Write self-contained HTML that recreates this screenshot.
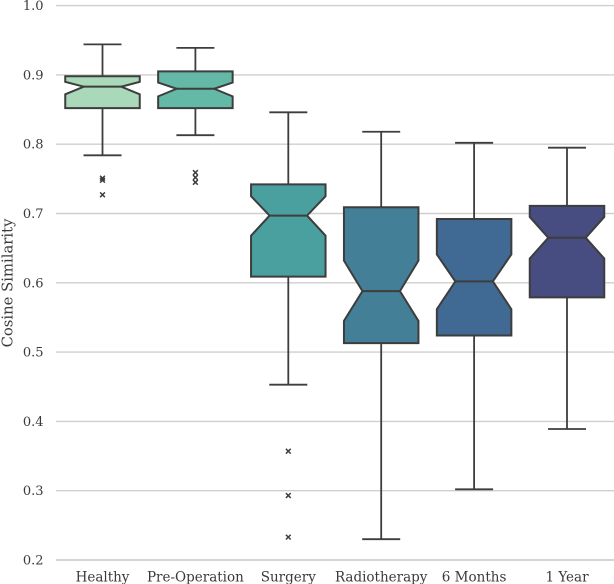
<!DOCTYPE html>
<html lang="en">
<head>
<meta charset="utf-8">
<title>Cosine Similarity Box Plot</title>
<style>
html,body{margin:0;padding:0;background:#fff;}
svg{display:block;}
text{font-family:"DejaVu Serif","Liberation Serif",serif;fill:#3a3a3a;font-size:13px;}
text.x-label{font-size:13.5px;}
text.y-title{font-size:14.8px;}
</style>
</head>
<body>
<svg id="chart" width="614" height="584" viewBox="0 0 614 584" xmlns="http://www.w3.org/2000/svg"></svg>
<script>
const categories = ['Healthy', 'Pre-Operation', 'Surgery', 'Radiotherapy', '6 Months', '1 Year'];
const yTicks = [0.2, 0.3, 0.4, 0.5, 0.6, 0.7, 0.8, 0.9, 1.0];
const whiskerLow = [0.784, 0.813, 0.453, 0.230, 0.302, 0.389];
const q1 = [0.852, 0.852, 0.609, 0.513, 0.524, 0.579];
const notchLow = [0.872, 0.869, 0.668, 0.545, 0.562, 0.635];
const medians = [0.883, 0.880, 0.697, 0.588, 0.602, 0.665];
const notchHigh = [0.890, 0.889, 0.725, 0.632, 0.641, 0.695];
const q3 = [0.898, 0.905, 0.742, 0.709, 0.692, 0.711];
const whiskerHigh = [0.944, 0.939, 0.846, 0.818, 0.802, 0.795];
const fliers = [[0.751, 0.748, 0.727], [0.759, 0.752, 0.745], [0.357, 0.293, 0.233], [], [], []];
const colors = ['#a9d9b9', '#64b9a6', '#4a9f9f', '#437f97', '#406a93', '#474d80'];

const svg = document.getElementById('chart');
const NS = 'http://www.w3.org/2000/svg';
const DARK = '#3d3d3d';
const yScale = v => 560 - (v - 0.2) * 693;
const xScale = i => 102.5 + i * 92.9;
const BOX_W = 74.5, CAP_W = 38, NOTCH_INSET = 18.5;

function make(tag, attrs, parent) {
  const el = document.createElementNS(NS, tag);
  for (const k in attrs) el.setAttribute(k, attrs[k]);
  (parent || svg).appendChild(el);
  return el;
}

yTicks.forEach(t => {
  const y = yScale(t);
  const line = make('line', {x1: 56, x2: 614, y1: y, y2: y, stroke: '#cfcfcf', 'stroke-width': t === 0.2 ? 1.8 : 1.4});
  
  
  const label = make('text', {x: 43.5, y: y + 4.5, 'text-anchor': 'end'});
  label.textContent = t.toFixed(1);
  
  
});

const yTitle = make('text', {transform: 'translate(12.5,283) rotate(-90)', 'text-anchor': 'middle', class: 'y-title'});
yTitle.textContent = 'Cosine Similarity';



categories.forEach((cat, i) => {
  const cx = xScale(i);
  const g = make('g', {});
  
  

  const left = cx - BOX_W / 2, right = cx + BOX_W / 2;
  const nl = left + NOTCH_INSET, nr = right - NOTCH_INSET;
  const wStyle = {stroke: DARK, 'stroke-width': 1.8, fill: 'none'};

  const lowWhisker = make('line', Object.assign({x1: cx, x2: cx, y1: yScale(q1[i]), y2: yScale(whiskerLow[i])}, wStyle), g);
  
  
  const highWhisker = make('line', Object.assign({x1: cx, x2: cx, y1: yScale(q3[i]), y2: yScale(whiskerHigh[i])}, wStyle), g);
  
  
  const lowCap = make('line', Object.assign({x1: cx - CAP_W / 2, x2: cx + CAP_W / 2, y1: yScale(whiskerLow[i]), y2: yScale(whiskerLow[i])}, wStyle), g);
  
  
  const highCap = make('line', Object.assign({x1: cx - CAP_W / 2, x2: cx + CAP_W / 2, y1: yScale(whiskerHigh[i]), y2: yScale(whiskerHigh[i])}, wStyle), g);
  
  

  const pts = [
    [left, yScale(q1[i])], [right, yScale(q1[i])], [right, yScale(notchLow[i])],
    [nr, yScale(medians[i])], [right, yScale(notchHigh[i])], [right, yScale(q3[i])],
    [left, yScale(q3[i])], [left, yScale(notchHigh[i])], [nl, yScale(medians[i])],
    [left, yScale(notchLow[i])]
  ];
  const body = make('polygon', {points: pts.map(p => p.join(',')).join(' '), fill: colors[i], stroke: DARK, 'stroke-width': 2, 'stroke-linejoin': 'miter'}, g);
  
  

  const med = make('line', {x1: nl, x2: nr, y1: yScale(medians[i]), y2: yScale(medians[i]), stroke: DARK, 'stroke-width': 2}, g);
  
  

  fliers[i].forEach(v => {
    const y = yScale(v), r = 2.4;
    const f = make('path', {d: `M${cx - r} ${y - r}L${cx + r} ${y + r}M${cx - r} ${y + r}L${cx + r} ${y - r}`, stroke: DARK, 'stroke-width': 1.5, fill: 'none'}, g);
    
    
  });

  const label = make('text', {x: cx, y: 581.5, 'text-anchor': 'middle', class: 'x-label'});
  label.textContent = cat;
  
  
});
</script>
</body>
</html>
